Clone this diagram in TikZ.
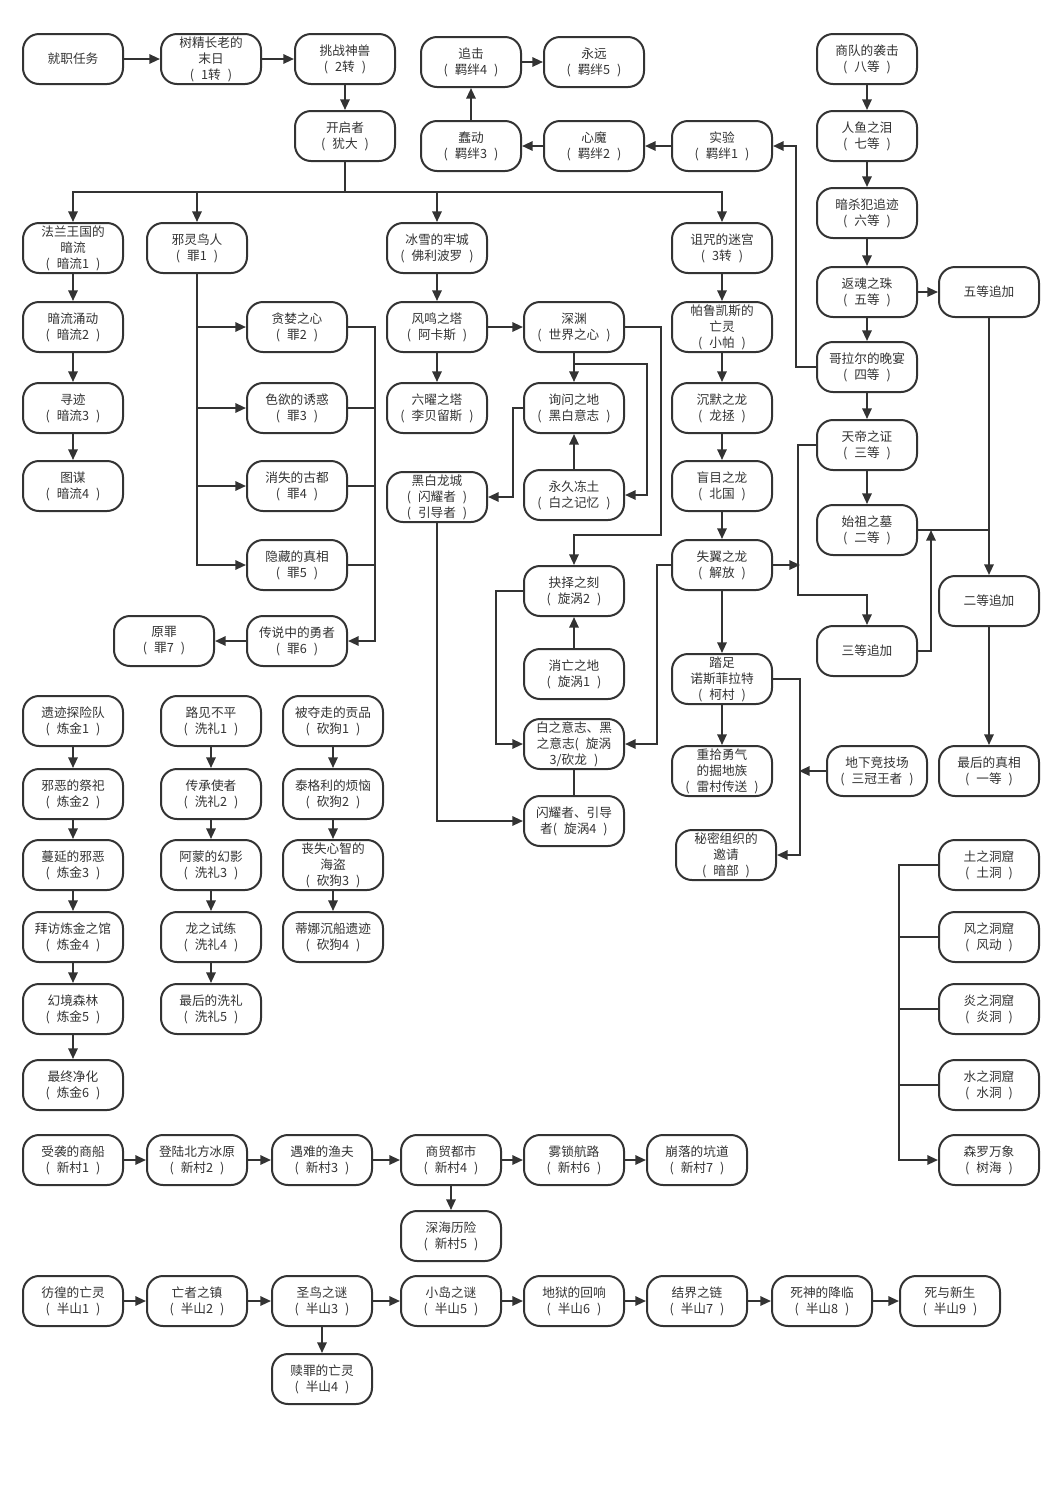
\documentclass[tikz,border=0pt]{standalone}
\usepackage{fontspec}
\newfontfamily\cjk{Noto Sans CJK SC}
\usetikzlibrary{arrows.meta,calc}
\definecolor{linec}{HTML}{333333}
\definecolor{textc}{HTML}{333333}
\newcommand{\prn}[1]{(\hspace{0.55em}#1\hspace{0.55em})}
\tikzset{
  box/.style={draw=linec, line width=1.5pt, rounded corners=12pt, minimum width=75pt,
    minimum height=37.5pt, align=center, inner sep=1pt, text=textc,
    font=\cjk\fontsize{9.5}{12}\selectfont},
  arr/.style={draw=linec, line width=1.5pt, -{Triangle[length=8pt,width=7pt]}},
  ln/.style={draw=linec, line width=1.5pt},
}
\begin{document}
\begin{tikzpicture}[x=0.75pt,y=-0.75pt]
\fill[white] (0,0) rectangle (1044,1486);
\useasboundingbox (0,0) rectangle (1044,1486);
% top row
\node[box] (n1) at (73,59) {就职任务};
\node[box] (n2) at (211,59) {树精长老的\\末日\\\prn{1转}};
\node[box] (n3) at (345,59) {挑战神兽\\\prn{2转}};
\node[box] (kai) at (345,136) {开启者\\\prn{犹大}};
\node[box] (b4) at (471,62) {追击\\\prn{羁绊4}};
\node[box] (b5) at (594,62) {永远\\\prn{羁绊5}};
\node[box] (b3) at (471,146) {蠢动\\\prn{羁绊3}};
\node[box] (b2) at (594,146) {心魔\\\prn{羁绊2}};
\node[box] (b1) at (722,146) {实验\\\prn{羁绊1}};
% grades
\node[box] (g8) at (867,59) {商队的袭击\\\prn{八等}};
\node[box] (g7) at (867,136) {人鱼之泪\\\prn{七等}};
\node[box] (g6) at (867,213) {暗杀犯追迹\\\prn{六等}};
\node[box] (g5) at (867,292) {返魂之珠\\\prn{五等}};
\node[box] (g5p) at (989,292) {五等追加};
\node[box] (g4) at (867,367) {哥拉尔的晚宴\\\prn{四等}};
\node[box] (g3) at (867,445) {天帝之证\\\prn{三等}};
\node[box] (g2) at (867,530) {始祖之墓\\\prn{二等}};
\node[box] (g3p) at (867,651) {三等追加};
\node[box] (g2p) at (989,601) {二等追加};
\node[box] (g1) at (989,771) {最后的真相\\\prn{一等}};
% dark current
\node[box] (a1) at (73,248) {法兰王国的\\暗流\\\prn{暗流1}};
\node[box] (a2) at (73,327) {暗流涌动\\\prn{暗流2}};
\node[box] (a3) at (73,408) {寻迹\\\prn{暗流3}};
\node[box] (a4) at (73,486) {图谋\\\prn{暗流4}};
% sins
\node[box] (z1) at (197,248) {邪灵鸟人\\\prn{罪1}};
\node[box] (z2) at (297,327) {贪婪之心\\\prn{罪2}};
\node[box] (z3) at (297,408) {色欲的诱惑\\\prn{罪3}};
\node[box] (z4) at (297,486) {消失的古都\\\prn{罪4}};
\node[box] (z5) at (297,565) {隐藏的真相\\\prn{罪5}};
\node[box] (z6) at (297,641) {传说中的勇者\\\prn{罪6}};
\node[box] (z7) at (164,641) {原罪\\\prn{罪7}};
% ice castle
\node[box] (f1) at (437,248) {冰雪的牢城\\\prn{佛利波罗}};
\node[box] (f2) at (437,327) {风鸣之塔\\\prn{阿卡斯}};
\node[box] (f3) at (437,408) {六曜之塔\\\prn{李贝留斯}};
\node[box] (f4) at (437,497) {黑白龙城\\\prn{闪耀者}\\\prn{引导者}};
\node[box] (s1) at (574,327) {深渊\\\prn{世界之心}};
\node[box] (s2) at (574,408) {询问之地\\\prn{黑白意志}};
\node[box] (s3) at (574,495) {永久冻土\\\prn{白之记忆}};
\node[box] (v2) at (574,591) {抉择之刻\\\prn{旋涡2}};
\node[box] (v1) at (574,674) {消亡之地\\\prn{旋涡1}};
\node[box] (v3) at (574,744) {白之意志、黑\\之意志(\hspace{0.55em}旋涡\\3/砍龙\hspace{0.55em})};
\node[box] (v4) at (574,821) {闪耀者、引导\\者\prn{旋涡4}};
% maze
\node[box] (m1) at (722,248) {诅咒的迷宫\\\prn{3转}};
\node[box] (m2) at (722,327) {帕鲁凯斯的\\亡灵\\\prn{小帕}};
\node[box] (m3) at (722,408) {沉默之龙\\\prn{龙拯}};
\node[box] (m4) at (722,486) {盲目之龙\\\prn{北国}};
\node[box] (m5) at (722,565) {失翼之龙\\\prn{解放}};
\node[box] (m6) at (722,679) {踏足\\诺斯菲拉特\\\prn{柯村}};
\node[box] (m7) at (722,771) {重拾勇气\\的掘地族\\\prn{雷村传送}};
\node[box] (m8) at (726,855) {秘密组织的\\邀请\\\prn{暗部}};
\node[box] (m9) at (877,771) {地下竞技场\\\prn{三冠王者}};
% alchemy
\node[box] (l1) at (73,721) {遗迹探险队\\\prn{炼金1}};
\node[box] (l2) at (73,794) {邪恶的祭祀\\\prn{炼金2}};
\node[box] (l3) at (73,865) {蔓延的邪恶\\\prn{炼金3}};
\node[box] (l4) at (73,937) {拜访炼金之馆\\\prn{炼金4}};
\node[box] (l5) at (73,1009) {幻境森林\\\prn{炼金5}};
\node[box] (l6) at (73,1085) {最终净化\\\prn{炼金6}};
% baptism
\node[box] (x1) at (211,721) {路见不平\\\prn{洗礼1}};
\node[box] (x2) at (211,794) {传承使者\\\prn{洗礼2}};
\node[box] (x3) at (211,865) {阿蒙的幻影\\\prn{洗礼3}};
\node[box] (x4) at (211,937) {龙之试练\\\prn{洗礼4}};
\node[box] (x5) at (211,1009) {最后的洗礼\\\prn{洗礼5}};
% dog
\node[box] (k1) at (333,721) {被夺走的贡品\\\prn{砍狗1}};
\node[box] (k2) at (333,794) {泰格利的烦恼\\\prn{砍狗2}};
\node[box] (k3) at (333,865) {丧失心智的\\海盗\\\prn{砍狗3}};
\node[box] (k4) at (333,937) {蒂娜沉船遗迹\\\prn{砍狗4}};
% caves
\node[box] (c1) at (989,865) {土之洞窟\\\prn{土洞}};
\node[box] (c2) at (989,937) {风之洞窟\\\prn{风动}};
\node[box] (c3) at (989,1009) {炎之洞窟\\\prn{炎洞}};
\node[box] (c4) at (989,1085) {水之洞窟\\\prn{水洞}};
\node[box] (c5) at (989,1160) {森罗万象\\\prn{树海}};
% new village
\node[box] (t1) at (73,1160) {受袭的商船\\\prn{新村1}};
\node[box] (t2) at (197,1160) {登陆北方冰原\\\prn{新村2}};
\node[box] (t3) at (322,1160) {遇难的渔夫\\\prn{新村3}};
\node[box] (t4) at (451,1160) {商贸都市\\\prn{新村4}};
\node[box] (t6) at (574,1160) {雾锁航路\\\prn{新村6}};
\node[box] (t7) at (697,1160) {崩落的坑道\\\prn{新村7}};
\node[box] (t5) at (451,1236) {深海历险\\\prn{新村5}};
% half mountain
\node[box] (h1) at (73,1301) {彷徨的亡灵\\\prn{半山1}};
\node[box] (h2) at (197,1301) {亡者之镇\\\prn{半山2}};
\node[box] (h3) at (322,1301) {圣鸟之谜\\\prn{半山3}};
\node[box] (h5) at (451,1301) {小岛之谜\\\prn{半山5}};
\node[box] (h6) at (574,1301) {地狱的回响\\\prn{半山6}};
\node[box] (h7) at (697,1301) {结界之链\\\prn{半山7}};
\node[box] (h8) at (822,1301) {死神的降临\\\prn{半山8}};
\node[box] (h9) at (950,1301) {死与新生\\\prn{半山9}};
\node[box] (h4) at (322,1379) {赎罪的亡灵\\\prn{半山4}};

% ---- connectors ----
\draw[arr] (n1) -- (n2);
\draw[arr] (n2) -- (n3);
\draw[arr] (n3) -- (kai);
\coordinate (bus) at ($(kai.south)+(0,30)$);
\draw[ln] (kai.south) -- (bus);
\draw[arr] (bus) -| (a1.north);
\draw[arr] (bus) -| (z1.north);
\draw[arr] (bus) -| (f1.north);
\draw[arr] (bus) -| (m1.north);
\draw[arr] (b1) -- (b2);
\draw[arr] (b2) -- (b3);
\draw[arr] (b3) -- (b4);
\draw[arr] (b4) -- (b5);
\draw[arr] (g8) -- (g7);
\draw[arr] (g7) -- (g6);
\draw[arr] (g6) -- (g5);
\draw[arr] (g5) -- (g4);
\draw[arr] (g4) -- (g3);
\draw[arr] (g3) -- (g2);
\draw[arr] (g5) -- (g5p);
\draw[arr] (g5p) -- (g2p);
\draw[ln] (g2.east) -- (g2.east -| g5p.south);
\draw[arr] (g2p) -- (g1);
\draw[arr] (g4.west) -- ++(-20,0) |- (b1.east);
\draw[arr] (g3.west) -- ++(-18,0) |- ($(g3p.north)+(0,-30)$) -- (g3p.north);
\draw[arr] (g3p.east) -| ($(g2.east)+(13,0)$);
\draw[arr] (m5.east) -- ++(27,0);
% dark current
\draw[arr] (a1) -- (a2);
\draw[arr] (a2) -- (a3);
\draw[arr] (a3) -- (a4);
% sins
\draw[arr] (z1.south) |- (z2.west);
\draw[arr] (z1.south) |- (z3.west);
\draw[arr] (z1.south) |- (z4.west);
\draw[arr] (z1.south) |- (z5.west);
\draw[ln] (z3.east) -- ++(27,0);
\draw[ln] (z4.east) -- ++(27,0);
\draw[ln] (z5.east) -- ++(27,0);
\draw[arr] (z2.east) -- ++(27,0) |- (z6.east);
\draw[arr] (z6) -- (z7);
% ice castle
\draw[arr] (f1) -- (f2);
\draw[arr] (f2) -- (f3);
\draw[arr] (f2) -- (s1);
\draw[arr] (s1) -- (s2);
\draw[arr] ($(s1.south)+(0,11)$) -| ($(s3.east)+(22,0)$) -- (s3.east);
\draw[arr] (s3) -- (s2);
\draw[arr] (s2.west) -- ++(-10,0) |- (f4.east);
\draw[arr] (s1.east) -- ++(36,0) |- ($(v2.north)+(0,-30)$) -- (v2.north);
\draw[arr] (v1) -- (v2);
\draw[arr] (v2.west) -- ++(-27,0) |- (v3.west);
\draw[arr] (m5.west) -- ++(-14,0) |- (v3.east);
\draw[ln] (v3) -- (v4);
\draw[arr] (f4.south) |- (v4.west);
% maze
\draw[arr] (m1) -- (m2);
\draw[arr] (m2) -- (m3);
\draw[arr] (m3) -- (m4);
\draw[arr] (m4) -- (m5);
\draw[arr] (m5) -- (m6);
\draw[arr] (m6) -- (m7);
\draw[arr] (m6.east) -- ++(27,0) |- (m8.east);
\draw[arr] (m9.west) -- ++(-27,0);
% alchemy, baptism, dog
\draw[arr] (l1) -- (l2);
\draw[arr] (l2) -- (l3);
\draw[arr] (l3) -- (l4);
\draw[arr] (l4) -- (l5);
\draw[arr] (l5) -- (l6);
\draw[arr] (x1) -- (x2);
\draw[arr] (x2) -- (x3);
\draw[arr] (x3) -- (x4);
\draw[arr] (x4) -- (x5);
\draw[arr] (k1) -- (k2);
\draw[arr] (k2) -- (k3);
\draw[arr] (k3) -- (k4);
% caves
\draw[ln] (c2.west) -- ++(-39,0);
\draw[ln] (c3.west) -- ++(-39,0);
\draw[ln] (c4.west) -- ++(-39,0);
\draw[arr] (c1.west) -- ++(-39,0) |- (c5.west);
% new village
\draw[arr] (t1) -- (t2);
\draw[arr] (t2) -- (t3);
\draw[arr] (t3) -- (t4);
\draw[arr] (t4) -- (t6);
\draw[arr] (t6) -- (t7);
\draw[arr] (t4) -- (t5);
% half mountain
\draw[arr] (h1) -- (h2);
\draw[arr] (h2) -- (h3);
\draw[arr] (h3) -- (h5);
\draw[arr] (h5) -- (h6);
\draw[arr] (h6) -- (h7);
\draw[arr] (h7) -- (h8);
\draw[arr] (h8) -- (h9);
\draw[arr] (h3) -- (h4);
\end{tikzpicture}
\end{document}
